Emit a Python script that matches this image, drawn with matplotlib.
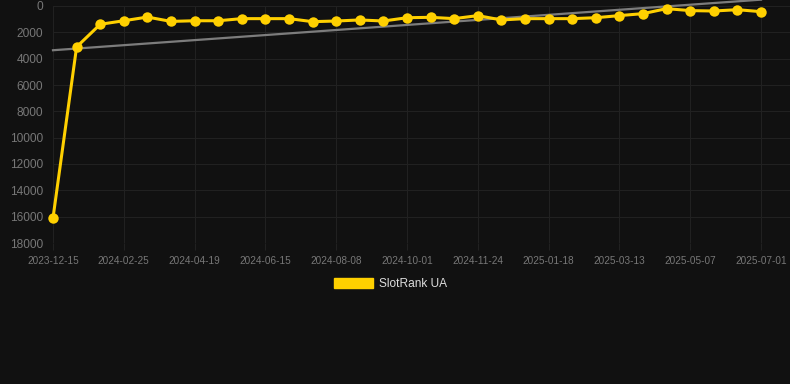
import numpy as np
import matplotlib.pyplot as plt
from matplotlib.patches import Patch

# Dades llegides del gràfic (rang, eix invertit)
tick_labels = ['2023-12-15', '2024-02-25', '2024-04-19', '2024-06-15',
               '2024-08-08', '2024-10-01', '2024-11-24', '2025-01-18',
               '2025-03-13', '2025-05-07', '2025-07-01']
rank_values = [16100, 3110, 1390, 1120, 840, 1170, 1120, 1120, 960, 960,
               960, 1190, 1140, 1060, 1140, 890, 860, 960, 730, 1060,
               960, 960, 960, 890, 730, 580, 200, 350, 380, 280, 430]
series_name = 'SlotRank UA'
y_ticks = [0, 2000, 4000, 6000, 8000, 10000, 12000, 14000, 16000, 18000]

BG = '#111111'
GOLD = '#ffd000'
GRID = '#212121'
TICK_COLOR = '#777777'

plt.rcParams['font.family'] = ['Liberation Sans', 'DejaVu Sans']

x = np.arange(len(rank_values))
y = np.array(rank_values, dtype=float)

fig = plt.figure(figsize=(7.9, 3.84), dpi=100, facecolor=BG)
ax = fig.add_axes([53 / 790, 1 - 243 / 384, 737 / 790, 237 / 384])
ax.set_facecolor(BG)

# línia de tendència (regressió lineal)
coef = np.polyfit(x, y, 1)
ax.plot(x[[0, -1]], np.polyval(coef, x[[0, -1]]), color='#7c7c7c',
        lw=1.6, clip_on=False, zorder=2)

ax.plot(x, y, color=GOLD, lw=2.2, marker='o', ms=7.5,
        markeredgewidth=0, zorder=3, clip_on=False)

ax.set_ylim(18000, 0)
ax.set_xlim(0, 30 + 29 / 23.6)
ax.set_yticks(y_ticks)
ax.set_yticklabels([str(v) for v in y_ticks])
tick_pos = x[::3]
ax.set_xticks(tick_pos)
ax.set_xticklabels(tick_labels)

ax.grid(True, color=GRID, lw=0.8)
ax.set_axisbelow(True)
for s in ax.spines.values():
    s.set_visible(False)

ax.tick_params(axis='y', length=0, pad=7, labelsize=8.6, labelcolor=TICK_COLOR)
ax.tick_params(axis='x', length=5, width=0.8, color=GRID, pad=4,
               labelsize=7.2, labelcolor=TICK_COLOR)

handle = Patch(facecolor=GOLD, edgecolor=GOLD, label=series_name)
fig.legend(handles=[handle], loc='center', bbox_to_anchor=(0.494, 1 - 284 / 384),
           frameon=False, fontsize=8.6, labelcolor='#dddddd',
           handlelength=3.3, handleheight=1.0, handletextpad=0.5)

fig.savefig('out.png', dpi=100, facecolor=BG)
